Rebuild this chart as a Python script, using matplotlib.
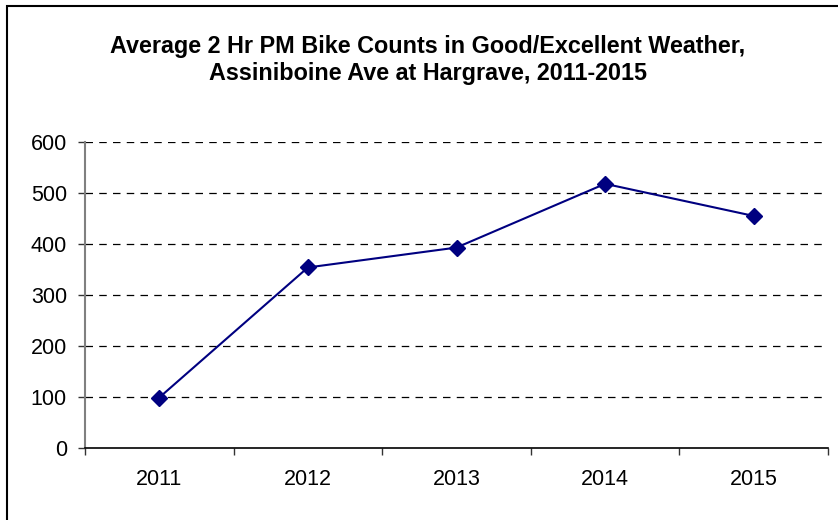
import matplotlib
matplotlib.use("Agg")
import matplotlib.pyplot as plt
import matplotlib.patches as patches
import numpy as np

years = ["2011", "2012", "2013", "2014", "2015"]
counts = [99, 354, 393, 518, 455]
yticks = [0, 100, 200, 300, 400, 500, 600]
title = "Average 2 Hr PM Bike Counts in Good/Excellent Weather,\nAssiniboine Ave at Hargrave, 2011-2015"

plt.rcParams['font.family'] = ['Liberation Sans', 'DejaVu Sans']

W, H = 838, 520
fig = plt.figure(figsize=(W/100, H/100), dpi=100)
# axes: left 85, right 828, top 142, bottom 448 (pixels)
ax = fig.add_axes([85/W, 1-448/H, (828-85)/W, (448-142)/H])

x = np.arange(len(years))
ax.plot(x, counts, color="#000080", lw=1.5, marker="D", ms=8,
        markerfacecolor="#000080", markeredgecolor="#000080", zorder=3)

ax.set_xlim(-0.5, len(years)-0.5)
ax.set_ylim(0, 600)
ax.set_yticks(yticks)
ax.set_yticklabels([str(v) for v in yticks], fontsize=15.5)
ax.set_xticks(x)
ax.set_xticklabels(years, fontsize=15.5)
ax.set_xticks(np.arange(len(years)+1)-0.5, minor=True)
ax.tick_params(axis='x', which='major', length=0, pad=15)
ax.tick_params(axis='x', which='minor', length=5, width=1, color='#333333', direction='out')
ax.tick_params(axis='y', length=5, width=1, color='#333333', direction='out', pad=8)

for v in yticks[1:]:
    ax.axhline(v, color='black', lw=0.9, ls=(0, (6, 5)), zorder=1)

for s in ['top', 'right']:
    ax.spines[s].set_visible(False)
ax.spines['left'].set_color('#808080')
ax.spines['left'].set_linewidth(1.5)
ax.spines['bottom'].set_color('black')
ax.spines['bottom'].set_linewidth(1.2)

fig.text(428/W, 1-60/H, title, ha='center', va='center', fontsize=16.8,
         fontweight='bold', linespacing=1.22)

# outer chart border (cut off at right and bottom)
fig.patches.append(patches.Rectangle((6.5/W, -0.1), 1.2, 1.1 - 6.5/H,
                                     transform=fig.transFigure, fill=False,
                                     edgecolor='black', lw=1.5))

fig.savefig("out.png", dpi=100)
